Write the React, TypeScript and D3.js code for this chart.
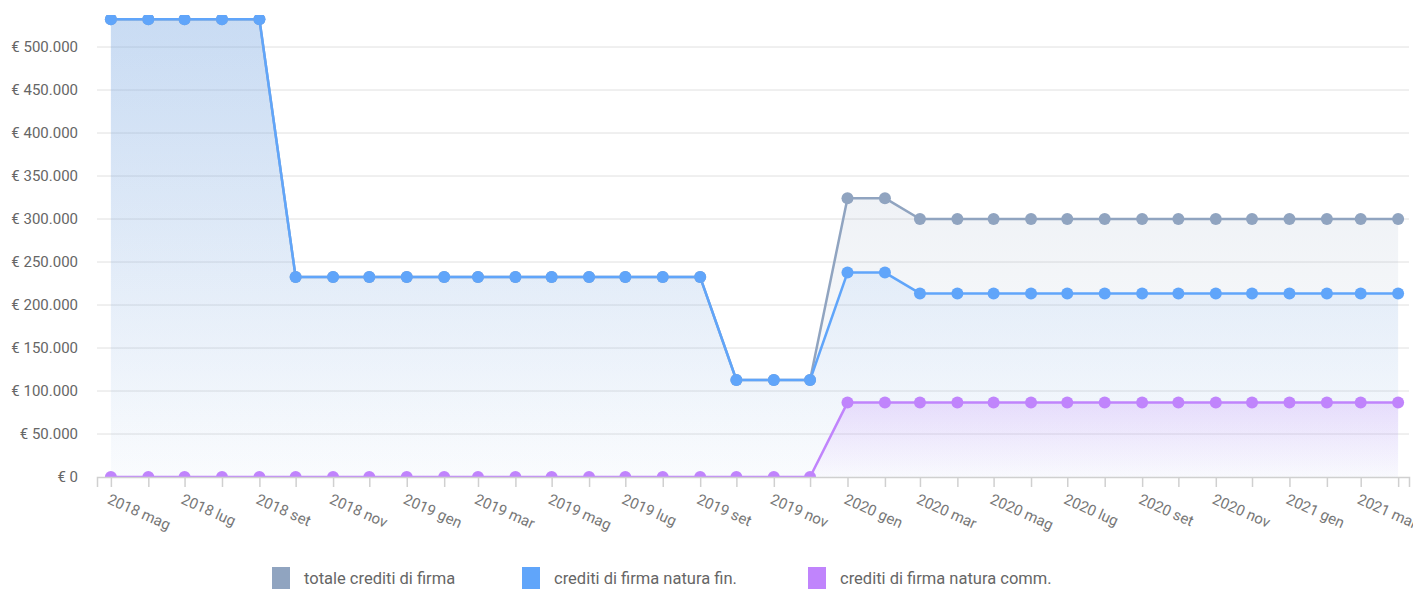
import React, { useEffect, useRef } from "react";
import * as d3 from "d3";

const months = [
  "2018-05", "2018-06", "2018-07", "2018-08", "2018-09", "2018-10", "2018-11", "2018-12",
  "2019-01", "2019-02", "2019-03", "2019-04", "2019-05", "2019-06", "2019-07", "2019-08",
  "2019-09", "2019-10", "2019-11", "2019-12", "2020-01", "2020-02", "2020-03", "2020-04",
  "2020-05", "2020-06", "2020-07", "2020-08", "2020-09", "2020-10", "2020-11", "2020-12",
  "2021-01", "2021-02", "2021-03", "2021-04",
];

const totale = [
  532200, 532200, 532200, 532200, 532200,
  232500, 232500, 232500, 232500, 232500, 232500, 232500, 232500, 232500, 232500, 232500, 232500,
  112800, 112800, 112800,
  324200, 324200,
  300000, 300000, 300000, 300000, 300000, 300000, 300000, 300000, 300000, 300000, 300000, 300000, 300000, 300000,
];

const naturaFin = [
  532200, 532200, 532200, 532200, 532200,
  232500, 232500, 232500, 232500, 232500, 232500, 232500, 232500, 232500, 232500, 232500, 232500,
  112800, 112800, 112800,
  237700, 237700,
  213500, 213500, 213500, 213500, 213500, 213500, 213500, 213500, 213500, 213500, 213500, 213500, 213500, 213500,
];

const naturaComm = [
  0, 0, 0, 0, 0, 0, 0, 0, 0, 0, 0, 0, 0, 0, 0, 0, 0, 0, 0, 0,
  86500, 86500, 86500, 86500, 86500, 86500, 86500, 86500, 86500, 86500, 86500, 86500, 86500, 86500, 86500, 86500,
];

const monthNames = ["gen", "feb", "mar", "apr", "mag", "giu", "lug", "ago", "set", "ott", "nov", "dic"];
const yTicks = [0, 50000, 100000, 150000, 200000, 250000, 300000, 350000, 400000, 450000, 500000];

const seriesNames = ["totale crediti di firma", "crediti di firma natura fin.", "crediti di firma natura comm."];
const seriesColors = ["#90a4c0", "#60a5fa", "#c084fc"];

const W = 1413;
const H = 590;
const plotLeft = 97;
const plotRight = 1409;
const plotTop = 15;
const plotBottom = 477;
const FONT = "Roboto, 'Noto Sans', sans-serif";

export default function App() {
  const ref = useRef<SVGSVGElement>(null);

  useEffect(() => {
    const svg = d3.select(ref.current);
    svg.selectAll("*").remove();

    const parse = d3.timeParse("%Y-%m");
    const dates = months.map((m) => parse(m) as Date);

    const x = d3
      .scaleTime()
      .domain([new Date(2018, 3, 19, 12), new Date(2021, 3, 10)])
      .range([plotLeft, plotRight]);
    const y = d3.scaleLinear().domain([0, 500000]).range([plotBottom, 47]);

    const defs = svg.append("defs");
    defs
      .append("clipPath")
      .attr("id", "plotclip")
      .append("rect")
      .attr("x", 0)
      .attr("y", plotTop)
      .attr("width", W)
      .attr("height", plotBottom - plotTop);

    seriesColors.forEach((c, i) => {
      const g = defs
        .append("linearGradient")
        .attr("id", `grad${i}`)
        .attr("x1", 0)
        .attr("y1", 0)
        .attr("x2", 0)
        .attr("y2", 1);
      g.append("stop").attr("offset", "0%").attr("stop-color", c).attr("stop-opacity", 0.22);
      g.append("stop").attr("offset", "100%").attr("stop-color", c).attr("stop-opacity", 0.02);
    });

    // grid
    const grid = svg.append("g");
    grid
      .selectAll("line")
      .data(yTicks.filter((t) => t > 0))
      .join("line")
      .attr("x1", plotLeft)
      .attr("x2", plotRight)
      .attr("y1", (d) => y(d))
      .attr("y2", (d) => y(d))
      .attr("stroke", "#e0e0e0")
      .attr("stroke-width", 1);

    // y labels
    svg
      .append("g")
      .selectAll("text")
      .data(yTicks)
      .join("text")
      .attr("x", 78)
      .attr("y", (d) => y(d))
      .attr("dy", "0.35em")
      .attr("text-anchor", "end")
      .attr("font-family", FONT)
      .attr("font-size", 15)
      .attr("fill", "#666")
      .text((d) => "€ " + d3.format(",")(d).replace(/,/g, "."));

    const allSeries = [totale, naturaFin, naturaComm];
    const plot = svg.append("g").attr("clip-path", "url(#plotclip)");

    const area = d3
      .area<number>()
      .x((_, i) => x(dates[i]))
      .y0(plotBottom)
      .y1((d) => y(d));
    const line = d3
      .line<number>()
      .x((_, i) => x(dates[i]))
      .y((d) => y(d));

    allSeries.forEach((s, i) => {
      plot.append("path").attr("d", area(s)!).attr("fill", `url(#grad${i})`);
    });

    // axis
    const xAxis = d3
      .axisBottom(x)
      .tickValues(dates)
      .tickSize(10)
      .tickSizeOuter(10)
      .tickFormat((d, i) =>
        i % 2 === 0 ? `${(d as Date).getFullYear()} ${monthNames[(d as Date).getMonth()]}` : ""
      );
    const ax = svg.append("g").attr("transform", `translate(0,${plotBottom})`).call(xAxis);
    ax.select(".domain").attr("stroke", "#d0d0d0").attr("stroke-width", 1.5);
    ax.selectAll(".tick line").attr("stroke", "#d0d0d0").attr("stroke-width", 1.5);
    ax.selectAll(".tick text")
      .attr("font-family", FONT)
      .attr("font-size", 15)
      .attr("fill", "#777")
      .attr("text-anchor", "start")
      .attr("x", 0)
      .attr("y", 0)
      .attr("dy", 0)
      .attr("transform", "translate(-5,26) rotate(24)");

    allSeries.forEach((s, i) => {
      plot
        .append("path")
        .attr("d", line(s)!)
        .attr("fill", "none")
        .attr("stroke", seriesColors[i])
        .attr("stroke-width", 2.5)
        .attr("stroke-linejoin", "round");
    });
    allSeries.forEach((s, i) => {
      plot
        .append("g")
        .selectAll("circle")
        .data(s)
        .join("circle")
        .attr("cx", (_, j) => x(dates[j]))
        .attr("cy", (d) => y(d))
        .attr("r", 6)
        .attr("fill", seriesColors[i]);
    });

    // legend
    const legendX = [272, 522, 808];
    const lg = svg.append("g");
    seriesNames.forEach((n, i) => {
      lg.append("rect")
        .attr("x", legendX[i])
        .attr("y", 567)
        .attr("width", 18)
        .attr("height", 22)
        .attr("fill", seriesColors[i]);
      lg.append("text")
        .attr("x", legendX[i] + 32)
        .attr("y", 584)
        .attr("font-family", FONT)
        .attr("font-size", 16.5)
        .attr("fill", "#666")
        .text(n);
    });
  }, []);

  return (
    <svg
      ref={ref}
      width={W}
      height={H}
      style={{ position: "absolute", left: 0, top: 0, background: "#fff" }}
    />
  );
}
